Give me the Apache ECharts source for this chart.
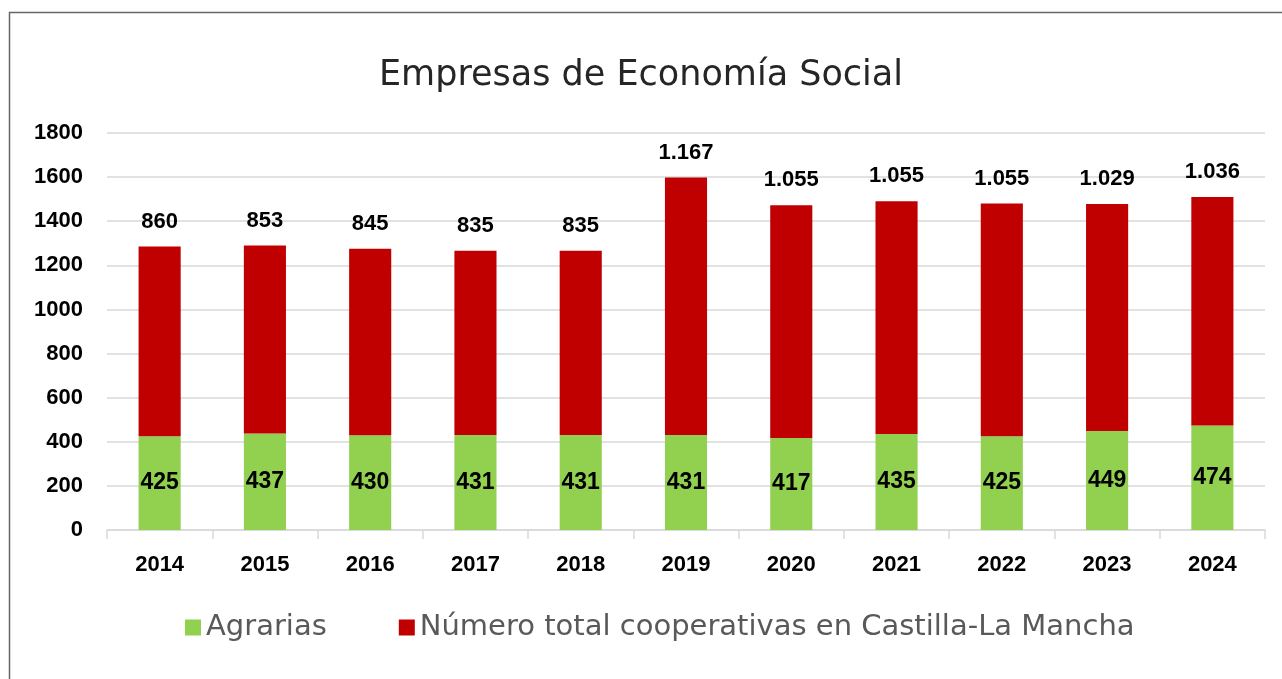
<!DOCTYPE html>
<html><head><meta charset="utf-8">
<script src="https://cdn.jsdelivr.net/npm/echarts@6/dist/echarts.min.js"></script>
<style>html,body{margin:0;padding:0;background:#fff}#c{width:1282px;height:679px}</style>
</head><body><div id="c"></div>
<script>
const categories = ['2014','2015','2016','2017','2018','2019','2020','2021','2022','2023','2024'];
const agrarias = [425,437,430,431,431,431,417,435,425,449,474];
const totalCoop = [860,853,845,835,835,1167,1055,1055,1055,1029,1036];
const yTicks = [0,200,400,600,800,1000,1200,1400,1600,1800];

const fmt = v => v >= 1000 ? Math.floor(v/1000) + '.' + String(v%1000).padStart(3,'0') : String(v);
const chart = echarts.init(document.getElementById('c'));
chart.setOption({
  animation:false,
  backgroundColor:'#fff',
  graphic:[{type:'rect',shape:{x:9.5,y:12.5,width:1300,height:700},style:{fill:'none',stroke:'#666',lineWidth:1.5}}],
  title:{text:'Empresas de Economía Social',left:'center',top:53,textStyle:{fontFamily:'DejaVu Sans',fontWeight:'normal',fontSize:35,color:'#262626'}},
  legend:{top:608,left:180,itemWidth:16,itemHeight:16,itemGap:72,icon:'rect',
    textStyle:{fontFamily:'DejaVu Sans',fontSize:29,color:'#595959'}},
  grid:{left:107,right:17,top:133,bottom:149},
  xAxis:{type:'category',data:categories,
    axisLine:{lineStyle:{color:'#d9d9d9',width:1.5}},
    axisTick:{show:true,length:9,lineStyle:{color:'#d9d9d9',width:1.5}},
    axisLabel:{margin:24,fontFamily:'Liberation Sans',fontWeight:'bold',fontSize:22,color:'#000'}},
  yAxis:{type:'value',min:yTicks[0],max:yTicks[yTicks.length-1],interval:200,
    axisLine:{show:false},axisTick:{show:false},
    splitLine:{lineStyle:{color:'#d9d9d9',width:1.5}},
    axisLabel:{margin:24,formatter:v=>String(v),fontFamily:'Liberation Sans',fontWeight:'bold',fontSize:22,color:'#000'}},
  series:[
    {name:'Agrarias',type:'bar',stack:'s',data:agrarias,barWidth:'40%',
     itemStyle:{color:'#92D050'},
     label:{show:true,position:'inside',fontFamily:'Liberation Sans',fontWeight:'bold',fontSize:23,color:'#000'}},
    {name:'Número total cooperativas en Castilla-La Mancha',type:'bar',stack:'s',data:totalCoop,barWidth:'40%',
     itemStyle:{color:'#C00000'},
     label:{show:true,position:'top',distance:14,formatter:p=>fmt(p.value),fontFamily:'Liberation Sans',fontWeight:'bold',fontSize:22,color:'#000'}}
  ]
});
</script></body></html>
